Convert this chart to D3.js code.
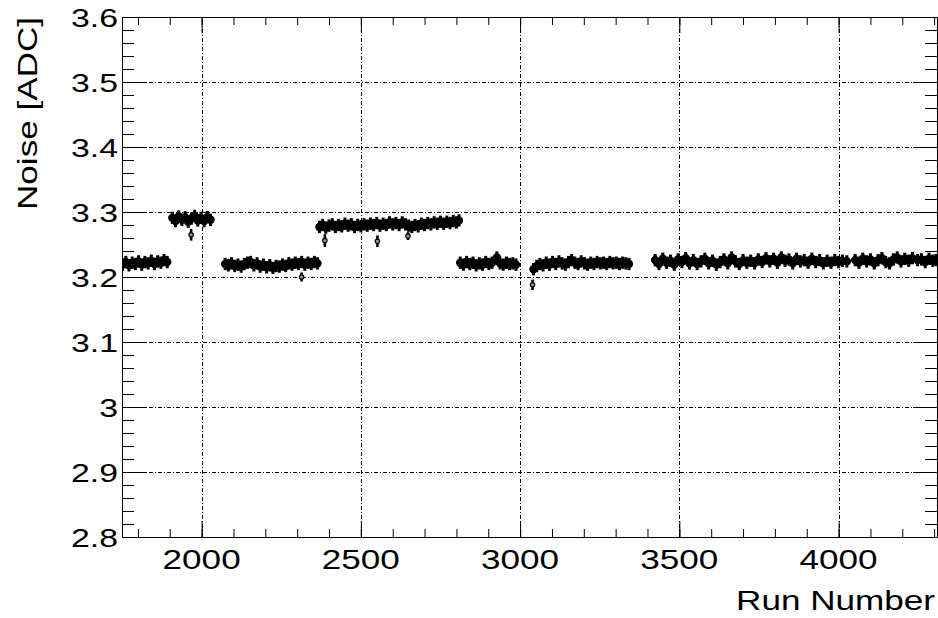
<!DOCTYPE html>
<html>
<head>
<meta charset="utf-8">
<title>Noise vs Run Number</title>
<script src="https://d3js.org/d3.v7.min.js"></script>
<style>
  body { margin: 0; background: #fff; }
  svg text { font-family: "Liberation Sans", Arial, sans-serif; fill: #000; }
</style>
</head>
<body>
<div id="chart"></div>
<script>
    // axis labels and ticks
    var xTicks = [2000, 2500, 3000, 3500, 4000];
    var yTicks = [2.8, 2.9, 3, 3.1, 3.2, 3.3, 3.4, 3.5, 3.6];
    var xTitle = "Run Number";
    var yTitle = "Noise [ADC]";

    // noise per run, one array per data-taking period
    var bandErr = 0.0095;
    var periodA = [[1752,3.219],[1762,3.223],[1772,3.218],[1782,3.222],[1792,3.220],[1802,3.224],[1812,3.219],
        [1822,3.223],[1832,3.221],[1842,3.225],[1852,3.220],[1862,3.224],[1872,3.222],[1882,3.226],[1892,3.223]];
    var periodB = [[1908,3.291],[1918,3.286],[1928,3.293],[1938,3.288],[1948,3.292],[1958,3.285],[1968,3.290],
        [1978,3.294],[1988,3.287],[1998,3.291],[2008,3.286],[2018,3.292],[2028,3.288]];
    var periodC = [[2074,3.220],[2084,3.218],[2094,3.221],[2104,3.217],[2114,3.219],[2124,3.216],[2134,3.220],
        [2144,3.222],[2154,3.223],[2164,3.218],[2174,3.221],[2184,3.216],[2194,3.219],[2204,3.215],[2214,3.218],
        [2224,3.214],[2234,3.217],[2244,3.216],[2254,3.219],[2264,3.217],[2274,3.221],[2284,3.219],[2294,3.222],
        [2304,3.220],[2314,3.223],[2324,3.219],[2334,3.222],[2344,3.220],[2354,3.223],[2364,3.221]];
    var periodD = [[2370,3.277],[2380,3.280],[2390,3.276],[2400,3.279],[2410,3.281],[2420,3.277],[2430,3.280],
        [2440,3.278],[2450,3.282],[2460,3.279],[2470,3.281],[2480,3.277],[2490,3.280],[2500,3.278],[2510,3.281],
        [2520,3.279],[2530,3.282],[2540,3.280],[2550,3.283],[2560,3.279],[2570,3.282],[2580,3.280],[2590,3.284],
        [2600,3.281],[2610,3.283],[2620,3.280],[2630,3.284],[2640,3.281],[2650,3.279],[2660,3.277],[2670,3.280],
        [2680,3.278],[2690,3.282],[2700,3.280],[2710,3.283],[2720,3.281],[2730,3.284],[2740,3.282],[2750,3.285],
        [2760,3.282],[2770,3.285],[2780,3.283],[2790,3.286],[2800,3.284],[2808,3.287]];
    var periodE = [[2812,3.222],[2822,3.219],[2832,3.223],[2842,3.220],[2852,3.222],[2862,3.218],[2872,3.221],
        [2882,3.219],[2892,3.223],[2902,3.220],[2912,3.222],[2927,3.230],[2937,3.221],[2947,3.219],[2957,3.222],
        [2967,3.220],[2977,3.221],[2987,3.219]];
    var periodF = [[3042,3.212],[3052,3.217],[3062,3.220],[3072,3.218],[3082,3.222],[3092,3.219],[3102,3.223],
        [3112,3.220],[3122,3.224],[3132,3.221],[3142,3.219],[3152,3.223],[3162,3.226],[3172,3.222],[3182,3.220],
        [3192,3.224],[3202,3.221],[3212,3.219],[3222,3.222],[3232,3.220],[3242,3.223],[3252,3.221],[3262,3.222],
        [3272,3.220],[3282,3.223],[3292,3.221],[3302,3.222],[3312,3.220],[3322,3.222],[3332,3.221],[3342,3.220]];
    var periodG = [[3424,3.226],[3436,3.220],[3448,3.228],[3460,3.222],[3472,3.225],[3484,3.219],[3496,3.227],
        [3508,3.223],[3520,3.229],[3532,3.221],[3544,3.226],[3556,3.220],[3568,3.224],[3580,3.228],[3592,3.221],
        [3604,3.225],[3616,3.219],[3628,3.223],[3640,3.227],[3652,3.221],[3664,3.230],[3676,3.224],[3688,3.220],
        [3700,3.226],[3712,3.222],[3724,3.225],[3736,3.221],[3748,3.227],[3760,3.223],[3772,3.229],[3784,3.224],
        [3796,3.228],[3808,3.222],[3820,3.230],[3832,3.225],[3844,3.227],[3856,3.221],[3868,3.228],[3880,3.224],
        [3892,3.226],[3904,3.222],[3916,3.228],[3928,3.223],[3940,3.226],[3952,3.221],[3964,3.225],[3976,3.222],
        [3988,3.226],[4000,3.223],[4012,3.225],[4026,3.224]];
    var periodH = [[4052,3.226],[4064,3.222],[4076,3.228],[4088,3.224],[4100,3.227],[4112,3.221],[4124,3.226],
        [4136,3.229],[4148,3.223],[4160,3.221],[4172,3.227],[4184,3.230],[4196,3.224],[4208,3.228],[4220,3.225],
        [4232,3.229],[4248,3.226]];
    var periodI = [[4260,3.227],[4272,3.223],[4284,3.228],[4296,3.225],[4306,3.226]];
    // single low runs: [run, noise, error]
    var outliers = [[1967,3.265,0.009],[2314,3.200,0.007],[2387,3.256,0.010],[2552,3.255,0.009],
        [2648,3.263,0.006],[3039,3.188,0.008]];

    var frame = {left: 122, right: 937, top: 17, bottom: 537};
    var stretch = 1.3;   // ROOT's helvetica is drawn wide

    drawChart();

    function drawChart() {
        var svg = d3.select("#chart").append("svg")
            .attr("width", 938)
            .attr("height", 618);

        var x = d3.scaleLinear().domain([1750, 4309]).range([frame.left, frame.right]);
        var y = d3.scaleLinear().domain([2.8, 3.6]).range([frame.bottom, frame.top]);

        drawGrid(svg, x, y);
        drawPoints(svg, x, y);
        drawAxes(svg, x, y);
        drawLabels(svg, x, y);
    }

    function drawGrid(svg, x, y) {
        var grid = svg.append("g").attr("class", "grid")
            .style("stroke", "#000")
            .style("stroke-width", 1)
            .style("stroke-dasharray", "4,2,1,2");

        grid.selectAll(".vgrid").data(xTicks).enter().append("line")
            .attr("x1", function(d) { return Math.round(x(d)) + 0.5; })
            .attr("x2", function(d) { return Math.round(x(d)) + 0.5; })
            .attr("y1", frame.bottom)
            .attr("y2", frame.top);

        grid.selectAll(".hgrid").data(yTicks.slice(1, -1)).enter().append("line")
            .attr("x1", frame.left)
            .attr("x2", frame.right)
            .attr("y1", function(d) { return Math.round(y(d)) + 0.5; })
            .attr("y2", function(d) { return Math.round(y(d)) + 0.5; });
    }

    function drawPoints(svg, x, y) {
        svg.append("clipPath").attr("id", "plotclip")
            .append("rect")
            .attr("x", frame.left).attr("y", frame.top)
            .attr("width", frame.right - frame.left)
            .attr("height", frame.bottom - frame.top);

        var points = [];
        [periodA, periodB, periodC, periodD, periodE, periodF, periodG, periodH, periodI]
            .forEach(function(period) {
                period.forEach(function(p) { points.push({run: p[0], noise: p[1], err: bandErr, lone: false}); });
            });
        outliers.forEach(function(p) { points.push({run: p[0], noise: p[1], err: p[2], lone: true}); });

        var g = svg.append("g").attr("clip-path", "url(#plotclip)");

        g.selectAll(".ebar").data(points).enter().append("line")
            .attr("class", "ebar")
            .attr("x1", function(d) { return x(d.run); })
            .attr("x2", function(d) { return x(d.run); })
            .attr("y1", function(d) { return y(d.noise - d.err); })
            .attr("y2", function(d) { return y(d.noise + d.err); })
            .style("stroke", "#000")
            .style("stroke-width", function(d) { return d.lone ? 2.6 : 3; });

        g.selectAll(".marker").data(points).enter().append("circle")
            .attr("class", "marker")
            .attr("cx", function(d) { return x(d.run); })
            .attr("cy", function(d) { return y(d.noise); })
            .attr("r", function(d) { return d.lone ? 2.2 : 3.6; })
            .style("fill", function(d) { return d.lone ? "#999" : "#000"; })
            .style("stroke", "#000")
            .style("stroke-width", 1.2);
    }

    function drawAxes(svg, x, y) {
        var minorX = d3.range(1800, 4301, 100);
        var minorY = y.ticks(40);

        var axes = [
            {axis: d3.axisBottom(x).tickValues(minorX).tickSize(-8), at: "translate(0," + frame.bottom + ")"},
            {axis: d3.axisBottom(x).tickValues(xTicks).tickSize(-16), at: "translate(0," + frame.bottom + ")"},
            {axis: d3.axisTop(x).tickValues(minorX).tickSize(-8), at: "translate(0," + frame.top + ")"},
            {axis: d3.axisTop(x).tickValues(xTicks).tickSize(-16), at: "translate(0," + frame.top + ")"},
            {axis: d3.axisLeft(y).tickValues(minorY).tickSize(-12), at: "translate(" + frame.left + ",0)"},
            {axis: d3.axisLeft(y).tickValues(yTicks).tickSize(-24), at: "translate(" + frame.left + ",0)"},
            {axis: d3.axisRight(y).tickValues(minorY).tickSize(-12), at: "translate(" + frame.right + ",0)"},
            {axis: d3.axisRight(y).tickValues(yTicks).tickSize(-24), at: "translate(" + frame.right + ",0)"}
        ];

        axes.forEach(function(a) {
            var g = svg.append("g")
                .attr("transform", a.at)
                .call(a.axis.tickFormat("").tickSizeOuter(0));
            g.selectAll("line").style("stroke", "#000");
            g.select(".domain").style("stroke", "#000");
        });
    }

    function drawLabels(svg, x, y) {
        var fmt = d3.format("~g");

        svg.selectAll(".ylab").data(yTicks).enter().append("text")
            .attr("class", "ylab")
            .attr("transform", function(d) {
                return "translate(118," + (y(d) + 9.5) + ") scale(" + stretch + ",1)";
            })
            .attr("text-anchor", "end")
            .style("font-size", "26px")
            .text(fmt);

        svg.selectAll(".xlab").data(xTicks).enter().append("text")
            .attr("class", "xlab")
            .attr("transform", function(d) {
                return "translate(" + x(d) + ",569) scale(" + stretch + ",1)";
            })
            .attr("text-anchor", "middle")
            .style("font-size", "27px")
            .text(fmt);

        svg.append("text")
            .attr("transform", "translate(935,610) scale(" + stretch + ",1)")
            .attr("text-anchor", "end")
            .style("font-size", "27px")
            .text(xTitle);

        svg.append("text")
            .attr("transform", "translate(37,17) rotate(-90) scale(" + stretch + ",1)")
            .attr("text-anchor", "end")
            .style("font-size", "27px")
            .text(yTitle);
    }
</script>
</body>
</html>
